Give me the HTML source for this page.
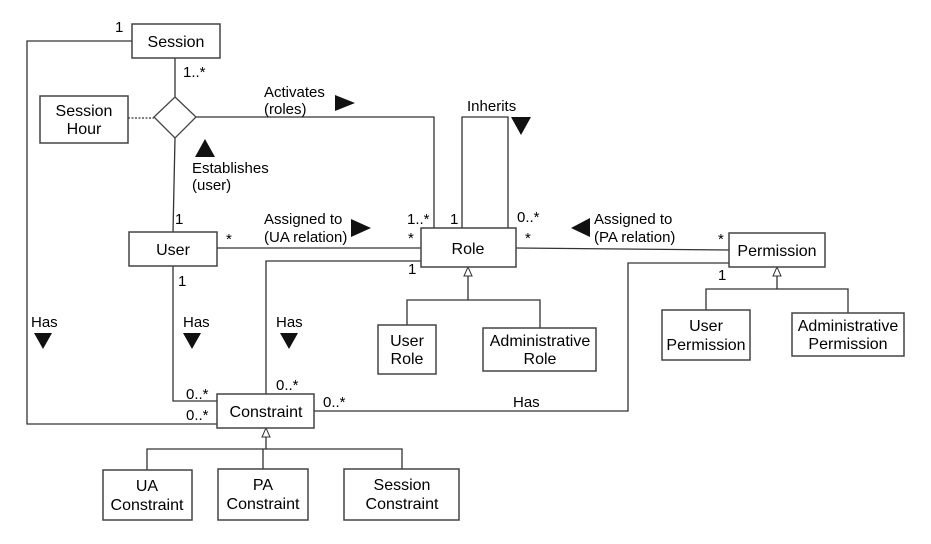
<!DOCTYPE html>
<html><head><style>
html,body{margin:0;padding:0;background:#fff;}
svg{display:block;}
text{font-family:"Liberation Sans",Arial,sans-serif;font-size:16px;fill:#000;}
.s{font-size:15px;}
.b{fill:#fff;stroke:#444;stroke-width:1.5;}
.l{fill:none;stroke:#333;stroke-width:1.3;}
</style></head><body>
<svg width="931" height="544" viewBox="0 0 931 544" xmlns="http://www.w3.org/2000/svg">
<!-- connectors -->
<polyline class="l" points="132,41 27,41 27,424 217,424"/>
<line class="l" x1="175" y1="58" x2="175" y2="97"/>
<line x1="128" y1="118" x2="154" y2="118" stroke="#333" stroke-width="1.2" stroke-dasharray="2,1.5"/>
<polyline class="l" points="196,117 434,117 434,228"/>
<polyline class="l" points="462,228 462,117 508,117 508,228"/>
<line class="l" x1="175" y1="138" x2="173" y2="232"/>
<line class="l" x1="217" y1="248" x2="421" y2="248"/>
<polyline class="l" points="421,261 266,261 266,394"/>
<polyline class="l" points="173,266 173,401 217,401"/>
<polyline class="l" points="314,411 628,411 628,263 730,263"/>
<line class="l" x1="516" y1="248" x2="729" y2="250"/>
<!-- generalizations -->
<polyline class="l" points="468,275 468,300 407,300 407,325"/>
<polyline class="l" points="468,300 540,300 540,328"/>
<polygon points="468,267 464,276 472,276" fill="#fff" stroke="#333" stroke-width="1"/>
<polyline class="l" points="777,276 777,289 706,289 706,310"/>
<polyline class="l" points="777,289 848,289 848,313"/>
<polygon points="777,267 773,276 781,276" fill="#fff" stroke="#333" stroke-width="1"/>
<polyline class="l" points="266,436 266,449 147,449 147,470"/>
<polyline class="l" points="263,449 263,469"/>
<polyline class="l" points="266,449 402,449 402,469"/>
<polygon points="266,428 262,437 270,437" fill="#fff" stroke="#333" stroke-width="1"/>
<!-- boxes -->
<rect class="b" x="132" y="24" width="88" height="34"/>
<text x="176" y="47" text-anchor="middle">Session</text>
<rect class="b" x="40" y="96" width="88" height="47"/>
<text x="84" y="116" text-anchor="middle">Session</text>
<text x="84" y="134" text-anchor="middle">Hour</text>
<polygon points="175,97 196,117 175,138 154,117" fill="#fff" stroke="#444" stroke-width="1.3"/>
<rect class="b" x="129" y="232" width="88" height="34"/>
<text x="173" y="255" text-anchor="middle">User</text>
<rect class="b" x="421" y="228" width="95" height="39"/>
<text x="468" y="254" text-anchor="middle">Role</text>
<rect class="b" x="729" y="233" width="96" height="34"/>
<text x="777" y="256" text-anchor="middle">Permission</text>
<rect class="b" x="378" y="325" width="58" height="49"/>
<text x="407" y="346" text-anchor="middle">User</text>
<text x="407" y="364" text-anchor="middle">Role</text>
<rect class="b" x="483" y="328" width="113" height="43"/>
<text x="540" y="346" text-anchor="middle">Administrative</text>
<text x="540" y="364" text-anchor="middle">Role</text>
<rect class="b" x="662" y="310" width="88" height="50"/>
<text x="706" y="331" text-anchor="middle">User</text>
<text x="706" y="350" text-anchor="middle">Permission</text>
<rect class="b" x="792" y="313" width="112" height="43"/>
<text x="848" y="331" text-anchor="middle">Administrative</text>
<text x="848" y="349" text-anchor="middle">Permission</text>
<rect class="b" x="217" y="394" width="97" height="34"/>
<text x="266" y="417" text-anchor="middle">Constraint</text>
<rect class="b" x="103" y="470" width="89" height="50"/>
<text x="147" y="491" text-anchor="middle">UA</text>
<text x="147" y="510" text-anchor="middle">Constraint</text>
<rect class="b" x="218" y="469" width="90" height="51"/>
<text x="263" y="490" text-anchor="middle">PA</text>
<text x="263" y="509" text-anchor="middle">Constraint</text>
<rect class="b" x="344" y="469" width="115" height="51"/>
<text x="402" y="490" text-anchor="middle">Session</text>
<text x="402" y="509" text-anchor="middle">Constraint</text>
<!-- labels -->
<text class="s" x="115" y="32">1</text>
<text class="s" x="183" y="77">1..*</text>
<text class="s" x="264" y="97">Activates</text>
<text class="s" x="264" y="114">(roles)</text>
<polygon points="335,95 355,103 335,111" fill="#111"/>
<polygon points="205,139 195,157 215,157" fill="#111"/>
<text class="s" x="192" y="173">Establishes</text>
<text class="s" x="192" y="190">(user)</text>
<text class="s" x="175" y="224">1</text>
<text class="s" x="226" y="244">*</text>
<text class="s" x="264" y="224">Assigned to</text>
<text class="s" x="264" y="242">(UA relation)</text>
<polygon points="351,219 371,228 351,237" fill="#111"/>
<text class="s" x="407" y="224">1..*</text>
<text class="s" x="450" y="224">1</text>
<text class="s" x="408" y="243">*</text>
<text class="s" x="408" y="274">1</text>
<text class="s" x="467" y="111">Inherits</text>
<polygon points="511,117 531,117 521,135" fill="#111"/>
<text class="s" x="517" y="222">0..*</text>
<text class="s" x="525" y="243">*</text>
<polygon points="590,218 571,228 590,237" fill="#111"/>
<text class="s" x="594" y="224">Assigned to</text>
<text class="s" x="594" y="242">(PA relation)</text>
<text class="s" x="718" y="244">*</text>
<text class="s" x="718" y="280">1</text>
<text class="s" x="178" y="286">1</text>
<text class="s" x="31" y="327">Has</text>
<polygon points="34,333 52,333 43,349" fill="#111"/>
<text class="s" x="183" y="327">Has</text>
<polygon points="183,333 201,333 192,349" fill="#111"/>
<text class="s" x="276" y="327">Has</text>
<polygon points="280,333 298,333 289,349" fill="#111"/>
<text class="s" x="186" y="399">0..*</text>
<text class="s" x="186" y="420">0..*</text>
<text class="s" x="276" y="390">0..*</text>
<text class="s" x="323" y="407">0..*</text>
<text class="s" x="513" y="407">Has</text>
</svg>
</body></html>
